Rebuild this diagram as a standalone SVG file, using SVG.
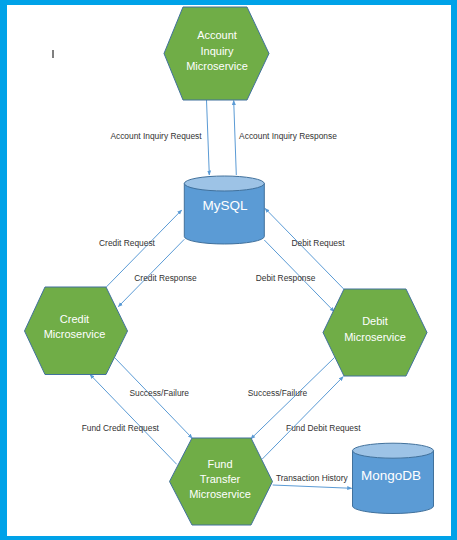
<svg xmlns="http://www.w3.org/2000/svg" width="457" height="540" viewBox="0 0 457 540">
<style>
.hex{fill:#70AD47;stroke:#41719C;stroke-width:1}
.cyl{fill:#5B9BD5;stroke:#41719C;stroke-width:1}
.cyltop{fill:#9DC3E6;stroke:#41719C;stroke-width:1}
.nt{fill:#fff;font-family:"Liberation Sans",Arial,sans-serif;font-size:11px;text-anchor:middle}
.dbt{fill:#fff;font-family:"Liberation Sans",Arial,sans-serif;font-size:13.5px;text-anchor:middle}
.lbl{fill:#333;font-family:"Liberation Sans",Arial,sans-serif;font-size:8.4px;text-anchor:middle}
.c{stroke:#5B9BD5;stroke-width:1;fill:none;marker-end:url(#ah)}
</style>
<defs>
<marker id="ah" viewBox="0 0 10 10" refX="9" refY="5" markerWidth="5" markerHeight="5" orient="auto" markerUnits="userSpaceOnUse">
<path d="M0,1 L10,5 L0,9 z" fill="#5B9BD5"/>
</marker>
</defs>
<rect x="0" y="0" width="457" height="540" fill="#00A2E8"/>
<rect x="7" y="5" width="444" height="531" fill="#fff"/>
<line x1="53" y1="50" x2="53" y2="58" stroke="#000" stroke-width="1"/>
<g id="connectors">
<line class="c" x1="206.5" y1="100" x2="209.3" y2="175"/>
<line class="c" x1="236.3" y1="175" x2="233.7" y2="100.5"/>
<line class="c" x1="106" y1="287.3" x2="181.7" y2="210"/>
<line class="c" x1="184.3" y1="239.3" x2="118.3" y2="306.7"/>
<line class="c" x1="344" y1="289.3" x2="265" y2="208.3"/>
<line class="c" x1="264.3" y1="240" x2="334.3" y2="311.7"/>
<line class="c" x1="114.5" y1="357.5" x2="192.3" y2="438.3"/>
<line class="c" x1="176.7" y1="464.3" x2="90" y2="374.5"/>
<line class="c" x1="334.5" y1="357.5" x2="250.7" y2="439"/>
<line class="c" x1="262.3" y1="459" x2="343.3" y2="376.5"/>
<line class="c" x1="272.7" y1="485" x2="351.7" y2="488.3"/>
</g>
<g id="labels">
<text class="lbl" x="156" y="139">Account Inquiry Request</text>
<text class="lbl" x="288" y="139">Account Inquiry Response</text>
<text class="lbl" x="127" y="245.7">Credit Request</text>
<text class="lbl" x="165.5" y="281">Credit Response</text>
<text class="lbl" x="318" y="245.7">Debit Request</text>
<text class="lbl" x="285.5" y="281">Debit Response</text>
<text class="lbl" x="159.2" y="396">Success/Failure</text>
<text class="lbl" x="277.5" y="396">Success/Failure</text>
<text class="lbl" x="120.3" y="431">Fund Credit Request</text>
<text class="lbl" x="323.3" y="431">Fund Debit Request</text>
<text class="lbl" x="311.8" y="481.3">Transaction History</text>
</g>
<g id="account-inquiry">
<polygon class="hex" points="183,7 247,7 269,53.5 247,100 183,100 164,53.5"/>
<text class="nt" x="217" y="39">Account</text>
<text class="nt" x="217" y="55">Inquiry</text>
<text class="nt" x="217" y="70">Microservice</text>
</g>
<g id="mysql">
<path class="cyl" d="M184.3,183.5 L184.3,236.5 A40,7.5 0 0 0 264.3,236.5 L264.3,183.5 z"/>
<ellipse class="cyltop" cx="224.3" cy="183.5" rx="40" ry="7.5"/>
<text class="dbt" x="225" y="210">MySQL</text>
</g>
<g id="credit">
<polygon class="hex" points="45,287 106,287 127.5,331 106,374.5 45,374.5 24.5,331"/>
<text class="nt" x="74.5" y="323">Credit</text>
<text class="nt" x="74.5" y="338">Microservice</text>
</g>
<g id="debit">
<polygon class="hex" points="344,289 406,289 427,332.5 406,376 344,376 323,332.5"/>
<text class="nt" x="375" y="325">Debit</text>
<text class="nt" x="375" y="340.7">Microservice</text>
</g>
<g id="fund-transfer">
<polygon class="hex" points="192,438 251,438 272.5,481.5 251,525 192,525 169.5,481.5"/>
<text class="nt" x="220" y="468">Fund</text>
<text class="nt" x="220" y="483">Transfer</text>
<text class="nt" x="220" y="498">Microservice</text>
</g>
<g id="mongodb">
<path class="cyl" d="M352.5,450.7 L352.5,506 A40.5,7.5 0 0 0 433.5,506 L433.5,450.7 z"/>
<ellipse class="cyltop" cx="393" cy="450.7" rx="40.5" ry="7.5"/>
<text class="dbt" x="391" y="480">MongoDB</text>
</g>
</svg>
